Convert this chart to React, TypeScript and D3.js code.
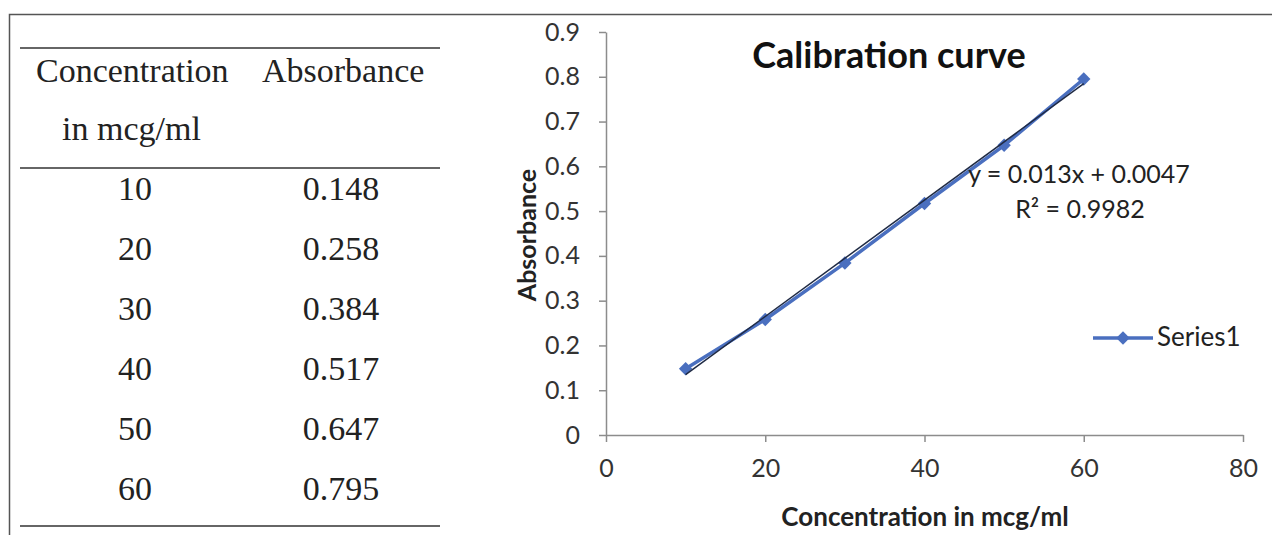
import React, { useEffect, useRef } from 'react'
import * as d3 from 'd3'

const concentrations = [10, 20, 30, 40, 50, 60]
const absorbances = [0.148, 0.258, 0.384, 0.517, 0.647, 0.795]
const absorbanceLabels = ['0.148', '0.258', '0.384', '0.517', '0.647', '0.795']
const slope = 0.013
const intercept = 0.0047
const xTicks = [0, 20, 40, 60, 80]
const yTicks = [0, 0.1, 0.2, 0.3, 0.4, 0.5, 0.6, 0.7, 0.8, 0.9]

const W = 1272
const H = 535

export default function App() {
  const ref = useRef<SVGSVGElement>(null)

  useEffect(() => {
    const svg = d3.select(ref.current)
    svg.selectAll('*').remove()

    // frame
    svg.append('path')
      .attr('d', `M9.5,${H} V14.5 H${W}`)
      .attr('fill', 'none')
      .attr('stroke', '#555')
      .attr('stroke-width', 1.5)

    // table
    const tbl = svg.append('g').style('font-family', '"Liberation Serif", serif')
    const rule = (y: number) => tbl.append('line')
      .attr('x1', 20).attr('x2', 440).attr('y1', y).attr('y2', y)
      .attr('stroke', '#666').attr('stroke-width', 2)
    rule(48); rule(168); rule(526)

    tbl.append('text').attr('x', 36).attr('y', 82).text('Concentration')
      .style('font-size', '34px').attr('fill', '#222')
    tbl.append('text').attr('x', 62).attr('y', 140).text('in mcg/ml')
      .style('font-size', '34px').attr('fill', '#222')
    tbl.append('text').attr('x', 262).attr('y', 82).text('Absorbance')
      .style('font-size', '34px').attr('fill', '#222')

    const rowY = d3.scaleLinear().domain([0, 5]).range([200, 500])
    concentrations.forEach((c, i) => {
      tbl.append('text').attr('x', 135).attr('y', rowY(i)).attr('text-anchor', 'middle')
        .style('font-size', '34px').attr('fill', '#222').text(String(c))
      tbl.append('text').attr('x', 341).attr('y', rowY(i)).attr('text-anchor', 'middle')
        .style('font-size', '34px').attr('fill', '#222').text(absorbanceLabels[i])
    })

    // chart
    const x = d3.scaleLinear().domain([0, 80]).range([606, 1243])
    const y = d3.scaleLinear().domain([0, 0.9]).range([435, 32])
    const g = svg.append('g').style('font-family', 'Lato, "Open Sans", sans-serif')
    const axisColor = '#8c8c8c'

    const yAxis = g.append('g').attr('transform', `translate(${x(0)},0)`)
      .call(d3.axisLeft(y).tickValues(yTicks).tickSize(7).tickSizeOuter(0).tickPadding(19)
        .tickFormat(d => (d as number) === 0 ? '0' : d3.format('.1f')(d as number)))
    yAxis.select('.domain').attr('stroke', axisColor).attr('stroke-width', 1.5)
    yAxis.selectAll('.tick line').attr('stroke', axisColor).attr('stroke-width', 1.5)
    yAxis.selectAll('.tick text').style('font-size', '25px').attr('fill', '#333').style('font-family', 'Lato, sans-serif')

    const xAxis = g.append('g').attr('transform', `translate(0,${y(0)})`)
      .call(d3.axisBottom(x).tickValues(xTicks).tickSize(7).tickSizeOuter(0).tickPadding(17))
    xAxis.select('.domain').attr('stroke', axisColor).attr('stroke-width', 1.5)
    xAxis.selectAll('.tick line').attr('stroke', axisColor).attr('stroke-width', 1.5)
    xAxis.selectAll('.tick text').style('font-size', '25px').attr('fill', '#333').style('font-family', 'Lato, sans-serif')

    g.append('text').attr('x', 889).attr('y', 68).attr('text-anchor', 'middle')
      .style('font-size', '36px').style('font-weight', 'bold').attr('fill', '#111')
      .text('Calibration curve')
    g.append('text').attr('transform', 'translate(536,235) rotate(-90)').attr('text-anchor', 'middle')
      .style('font-size', '25px').style('font-weight', 'bold').attr('fill', '#222')
      .text('Absorbance')
    g.append('text').attr('x', 925).attr('y', 526).attr('text-anchor', 'middle')
      .style('font-size', '26px').style('font-weight', 'bold').attr('fill', '#222')
      .text('Concentration in mcg/ml')

    const blue = '#4a6fbf'
    const pts = concentrations.map((c, i) => [c, absorbances[i]] as [number, number])
    const line = d3.line<[number, number]>().x(d => x(d[0])).y(d => y(d[1]))
    g.append('path').datum(pts).attr('d', line).attr('fill', 'none')
      .attr('stroke', blue).attr('stroke-width', 3.5)

    const sym = d3.symbol().type(d3.symbolSquare).size(90)
    g.selectAll('.pt').data(pts).enter().append('path')
      .attr('transform', d => `translate(${x(d[0])},${y(d[1])}) rotate(45)`)
      .attr('d', sym).attr('fill', blue)

    // linear trendline
    const tl = [10, 60].map(c => [c, slope * c + intercept] as [number, number])
    g.append('path').datum(tl).attr('d', line).attr('fill', 'none')
      .attr('stroke', '#1f2a44').attr('stroke-width', 1.5)

    g.append('text').attr('x', 1079).attr('y', 183).attr('text-anchor', 'middle')
      .style('font-size', '25px').attr('fill', '#222').text(`y = ${slope}x + ${intercept}`)
    g.append('text').attr('x', 1080).attr('y', 218).attr('text-anchor', 'middle')
      .style('font-size', '25px').attr('fill', '#222').text('R² = 0.9982')

    // legend
    g.append('line').attr('x1', 1093).attr('x2', 1153).attr('y1', 338).attr('y2', 338)
      .attr('stroke', blue).attr('stroke-width', 3.5)
    g.append('path').attr('transform', 'translate(1123,338) rotate(45)').attr('d', sym).attr('fill', blue)
    g.append('text').attr('x', 1157).attr('y', 346).style('font-size', '26px').attr('fill', '#222')
      .text('Series1')
  }, [])

  return (
    <svg ref={ref} width={W} height={H}
      style={{ position: 'absolute', left: 0, top: 0, background: '#fff' }} />
  )
}
